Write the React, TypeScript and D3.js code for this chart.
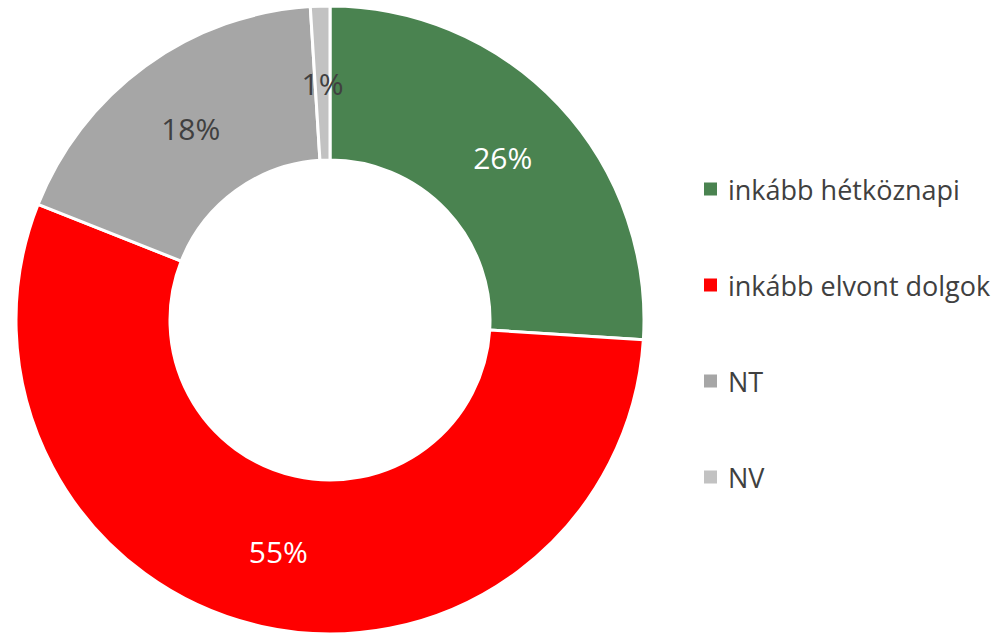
import React from "react";
import * as d3 from "d3";

const categories = ["inkább hétköznapi", "inkább elvont dolgok", "NT", "NV"];
const values = [26, 55, 18, 1];
const labels = ["26%", "55%", "18%", "1%"];
const colors = ["#4a8350", "#ff0000", "#a6a6a6", "#c2c2c2"];
const labelColors = ["#ffffff", "#ffffff", "#404040", "#404040"];

export default function App() {
  const W = 1000, H = 634;
  const cx = 330, cy = 320, outerR = 314, innerR = 160;
  const pie = d3.pie<number>().sort(null).value((d) => d)(values);
  const arc = d3.arc<d3.PieArcDatum<number>>().innerRadius(innerR).outerRadius(outerR);
  const labelArc = d3.arc<d3.PieArcDatum<number>>().innerRadius((innerR + outerR) / 2).outerRadius((innerR + outerR) / 2);
  const font = "'Open Sans', 'Noto Sans', sans-serif";
  return (
    <svg width={W} height={H} style={{ position: "absolute", left: 0, top: 0, background: "#fff" }}>
      <g transform={`translate(${cx},${cy})`}>
        {pie.map((p, i) => (
          <path key={i} d={arc(p) || ""} fill={colors[i]} stroke="#fff" strokeWidth={3} strokeLinejoin="round" />
        ))}
        {pie.map((p, i) => {
          const [x, y] = labelArc.centroid(p);
          return (
            <text key={i} x={x} y={y} textAnchor="middle" dominantBaseline="central" fontFamily={font} fontSize={30} fill={labelColors[i]}>
              {labels[i]}
            </text>
          );
        })}
      </g>
      {categories.map((c, i) => (
        <g key={c} transform={`translate(704,${189 + i * 96})`}>
          <rect x={0} y={-6.5} width={13} height={13} fill={colors[i]} />
          <text x={24} y={0} dominantBaseline="central" fontFamily={font} fontSize={27} fill="#404040">
            {c}
          </text>
        </g>
      ))}
    </svg>
  );
}
